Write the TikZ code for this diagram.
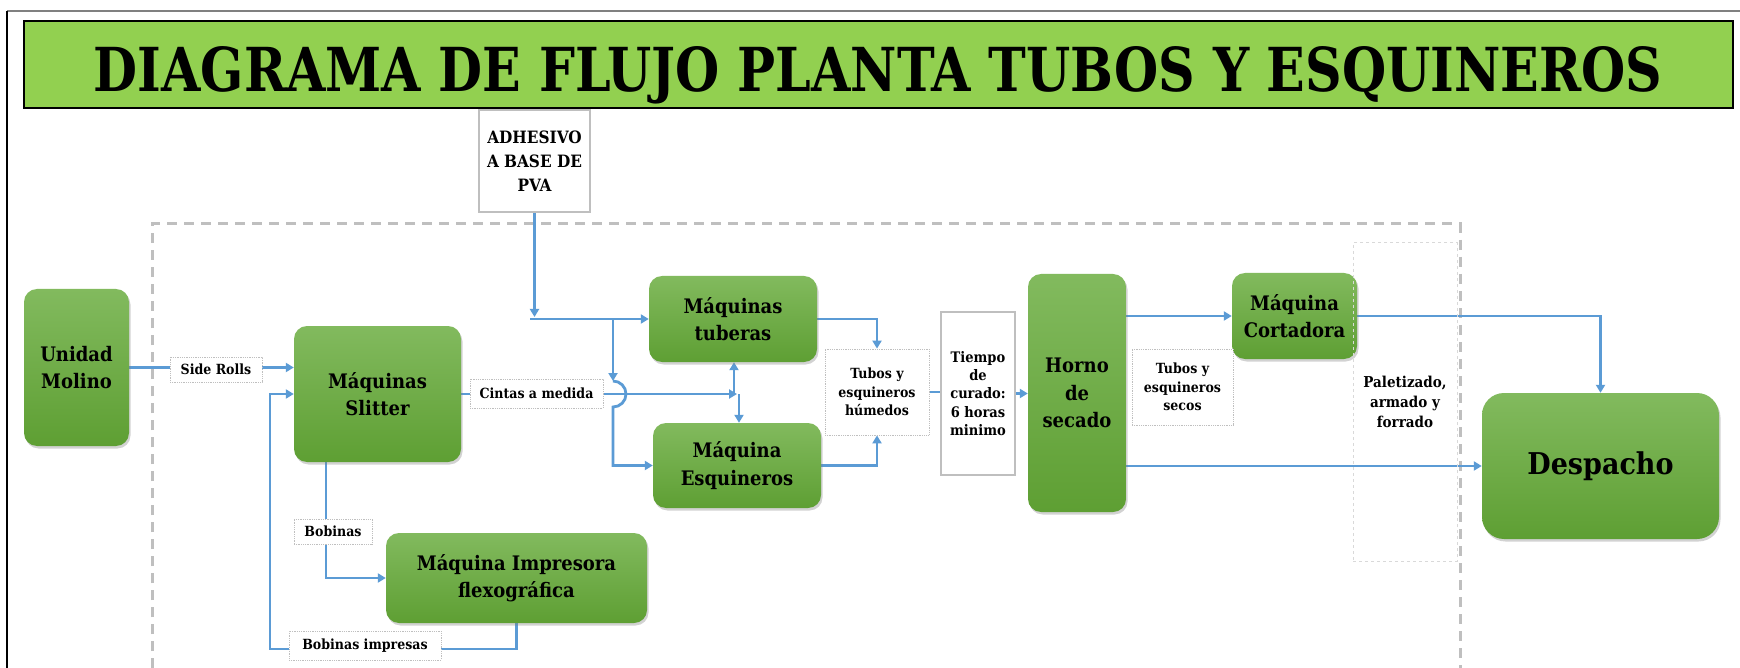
\documentclass[tikz,border=0pt]{standalone}
\usepackage{fontspec}
\usepackage{graphicx}
\setmainfont{DejaVu Serif Condensed}
\usetikzlibrary{arrows.meta,shadows,calc}
\definecolor{arrowblue}{HTML}{5B9BD5}
\definecolor{titlegreen}{HTML}{92D050}
\definecolor{gtop}{HTML}{82BA5E}
\definecolor{gbot}{HTML}{5E9F33}
\definecolor{lgray}{HTML}{BFBFBF}
\definecolor{llgray}{HTML}{D9D9D9}
\definecolor{framegray}{HTML}{808080}
\pgfdeclarelayer{back}
\pgfdeclarelayer{bg}
\pgfsetlayers{back,bg,main}
\begin{document}
\begin{tikzpicture}[x=1pt,y=-1pt,
  proc/.style={rectangle, rounded corners=13pt, top color=gtop, bottom color=gbot, draw=none,
    drop shadow={shadow xshift=1.5pt, shadow yshift=-2.5pt, opacity=0.35},
    align=center, inner sep=0pt, text=black, font=\fontsize{20}{27.5}\selectfont\bfseries},
  lbl/.style={rectangle, draw=lgray, densely dotted, line width=0.8pt, fill=white, align=center,
    inner sep=0pt, font=\fontsize{14}{18.3}\selectfont\bfseries},
  solidbox/.style={rectangle, draw=lgray, line width=1.2pt, fill=white, align=center, inner sep=0pt},
  conn/.style={draw=arrowblue, line width=2.8pt},
  arr/.style={conn, -{Triangle[length=8pt,width=9pt]}},
]
\useasboundingbox (0,0) rectangle (1740,668);
\begin{pgfonlayer}{back}
\fill[white] (0,0) rectangle (1740,668);
\end{pgfonlayer}

% frame lines
\draw[framegray, line width=2pt] (7,11) -- (1740,11);
\draw[black, line width=2pt] (7,11) -- (7,668);

% title
\node[draw=black, line width=2.5pt, fill=titlegreen, minimum width=1709, minimum height=87, inner sep=0pt] (titlebox) at (878.5,64.5) {};
\node[anchor=base, inner sep=0pt] (title) at (878,92) {\resizebox{1568pt}{45pt}{\bfseries DIAGRAMA DE FLUJO PLANTA TUBOS Y ESQUINEROS}};

% process nodes
\node[proc, minimum width=105, minimum height=157] (molino) at (76.5,367.5) {Unidad\\Molino};
\node[proc, minimum width=167, minimum height=136] (slitter) at (377.5,394) {Máquinas\\Slitter};
\node[proc, minimum width=168, minimum height=86] (tuberas) at (733,319) {Máquinas\\tuberas};
\node[proc, minimum width=168, minimum height=85] (esquineros) at (737,465.5) {Máquina\\Esquineros};
\node[proc, minimum width=261, minimum height=90] (impresora) at (516.5,578) {Máquina Impresora\\flexográfica};
\node[proc, minimum width=98, minimum height=238] (horno) at (1077,393) {Horno\\de\\secado};
\node[proc, minimum width=125, minimum height=86] (cortadora) at (1294.5,316) {Máquina\\Cortadora};
\node[proc, minimum width=237, minimum height=146, rounded corners=22pt, font=\fontsize{30}{36}\selectfont\bfseries] (despacho) at (1600.5,466) {Despacho};

% labels and boxes
\node[lbl, minimum width=92, minimum height=25] (siderolls) at (216,369.5) {Side Rolls};
\node[lbl, minimum width=133, minimum height=29] (cintas) at (536.5,393.5) {Cintas a medida};
\node[lbl, minimum width=78, minimum height=25] (bobinas) at (333,531.5) {Bobinas};
\node[lbl, minimum width=152, minimum height=29] (bobimp) at (365,645.5) {Bobinas impresas};
\node[lbl, minimum width=104, minimum height=86] (humedos) at (877,392) {Tubos y\\esquineros\\húmedos};
\node[lbl, minimum width=101, minimum height=76] (secos) at (1182.5,387) {Tubos y\\esquineros\\secos};
\node[solidbox, minimum width=74, minimum height=163, font=\fontsize{14.5}{18.3}\selectfont\bfseries] (tiempo) at (978,393.5) {Tiempo\\de\\curado:\\6 horas\\minimo};
\node[solidbox, minimum width=111, minimum height=102, font=\fontsize{17}{24}\selectfont\bfseries] (adhesivo) at (534.5,161) {ADHESIVO\\A BASE DE\\PVA};
\node[draw=llgray, dashed, line width=1pt, minimum width=104, minimum height=318, inner sep=0pt, align=center, font=\fontsize{15}{20}\selectfont\bfseries] (paletizado) at (1405,402) {Paletizado,\\armado y\\forrado};

% helper coordinates
\coordinate (adh) at (534.5,317);
\coordinate (j0) at (530,319);
\coordinate (j1) at (613,319);
\coordinate (hop1) at (613,381);
\coordinate (jc) at (737,394);
\coordinate (ju) at (734,394);
\coordinate (jd) at (739,394);
\coordinate (sb) at (326,462);
\coordinate (lp) at (270,649);

\begin{pgfonlayer}{bg}
\draw[lgray, line width=3pt, dash pattern=on 10pt off 7pt] (152,668) -- (152,224) -- (1460,224) -- (1460,668);
\draw[arr] (molino.east) -- (molino.east -| slitter.west);
\draw[arr] (adhesivo.south) -- (adh);
\draw[arr] (j0) -- (tuberas.west);
\draw[arr] (j1) -- (hop1);
\draw[arr] (hop1) arc[start angle=-90, end angle=90, radius=13] |- (esquineros.west);
\draw[arr] (slitter.east) -- (jc);
\draw[arr] (ju) -- (ju |- tuberas.south);
\draw[arr] (jd) -- (jd |- esquineros.north);
\draw[arr] (tuberas.east) -| (humedos.north);
\draw[arr] (esquineros.east) -| (humedos.south);
\draw[conn] (humedos.east) -- (humedos.east -| tiempo.west);
\draw[arr] (tiempo.east) -- (tiempo.east -| horno.west);
\draw[arr] (horno.east |- cortadora.west) -- (cortadora.west);
\draw[arr] (cortadora.east) -| (despacho.north);
\draw[arr] (horno.east |- despacho.west) -- (despacho.west);
\draw[arr] (sb) |- (impresora.west);
\draw[arr] (impresora.south) |- (lp) |- (slitter.west);
\end{pgfonlayer}
\end{tikzpicture}
\end{document}
